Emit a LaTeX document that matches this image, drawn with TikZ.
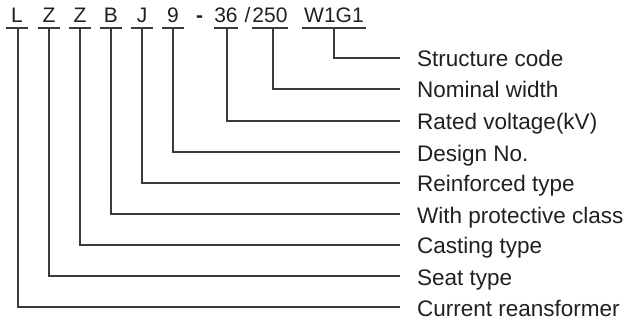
\documentclass[tikz,border=0pt]{standalone}
\usepackage{fontspec}
\setmainfont{Liberation Sans}
\definecolor{ink}{HTML}{231F20}
\definecolor{wire}{HTML}{3A3A3A}
\begin{document}
\begin{tikzpicture}[x=1pt,y=-1pt,
  code/.style={inner sep=0pt, anchor=south, text height=14pt, text depth=5pt,
    minimum width=#1, font=\fontsize{21}{24}\selectfont, text=ink},
  lab/.style={inner xsep=17pt, inner ysep=0pt, anchor=west, text height=18pt, text depth=0pt,
    font=\fontsize{22.5}{27}\selectfont, text=ink},
  wireline/.style={draw=wire, line width=1.3pt},
  plain/.style={inner sep=0pt, anchor=base, font=\fontsize{21}{24}\selectfont, text=ink}]
\useasboundingbox (0,0) rectangle (625,321);
% code parts
\node[code=22pt] (cL) at (17,28) {L};
\node[code=22pt] (cZa) at (49,28) {Z};
\node[code=22pt] (cZb) at (80,28) {Z};
\node[code=22pt] (cB) at (111,28) {B};
\node[code=22pt] (cJ) at (142,28) {J};
\node[code=22pt] (c9) at (173,28) {9};
\node[plain] (dash) at (199.5,23) {\bfseries -};
\node[code=22pt] (c36) at (226,28) {36};
\node[plain] (slash) at (247.5,23) {/};
\node[code=36pt] (c250) at (270,28) {250};
\node[code=64pt] (cW) at (334,28) {W1G1};
% labels
\node[lab] (lW) at (400,58) {Structure code};
\node[lab] (l250) at (400,89) {Nominal width};
\node[lab] (l36) at (400,121) {Rated voltage(kV)};
\node[lab] (l9) at (400,152) {Design No.};
\node[lab] (lJ) at (400,183) {Reinforced type};
\node[lab] (lB) at (400,214) {With protective class};
\node[lab] (lZb) at (400,245) {Casting type};
\node[lab] (lZa) at (400,276) {Seat type};
\node[lab] (lL) at (400,307) {Current reansformer};
% underlines
\foreach \n in {cL,cZa,cZb,cB,cJ,c9,c36,c250,cW}
  \draw[wireline] (\n.south west) -- (\n.south east);
% connectors
\draw[wireline] (cW.south) |- (lW.west);
\draw[wireline] ([xshift=3pt]c250.south) |- (l250.west);
\draw[wireline] ([xshift=1pt]c36.south) |- (l36.west);
\draw[wireline] (c9.south) |- (l9.west);
\draw[wireline] (cJ.south) |- (lJ.west);
\draw[wireline] (cB.south) |- (lB.west);
\draw[wireline] (cZb.south) |- (lZb.west);
\draw[wireline] (cZa.south) |- (lZa.west);
\draw[wireline] ([xshift=1pt]cL.south) |- (lL.west);
\end{tikzpicture}
\end{document}
